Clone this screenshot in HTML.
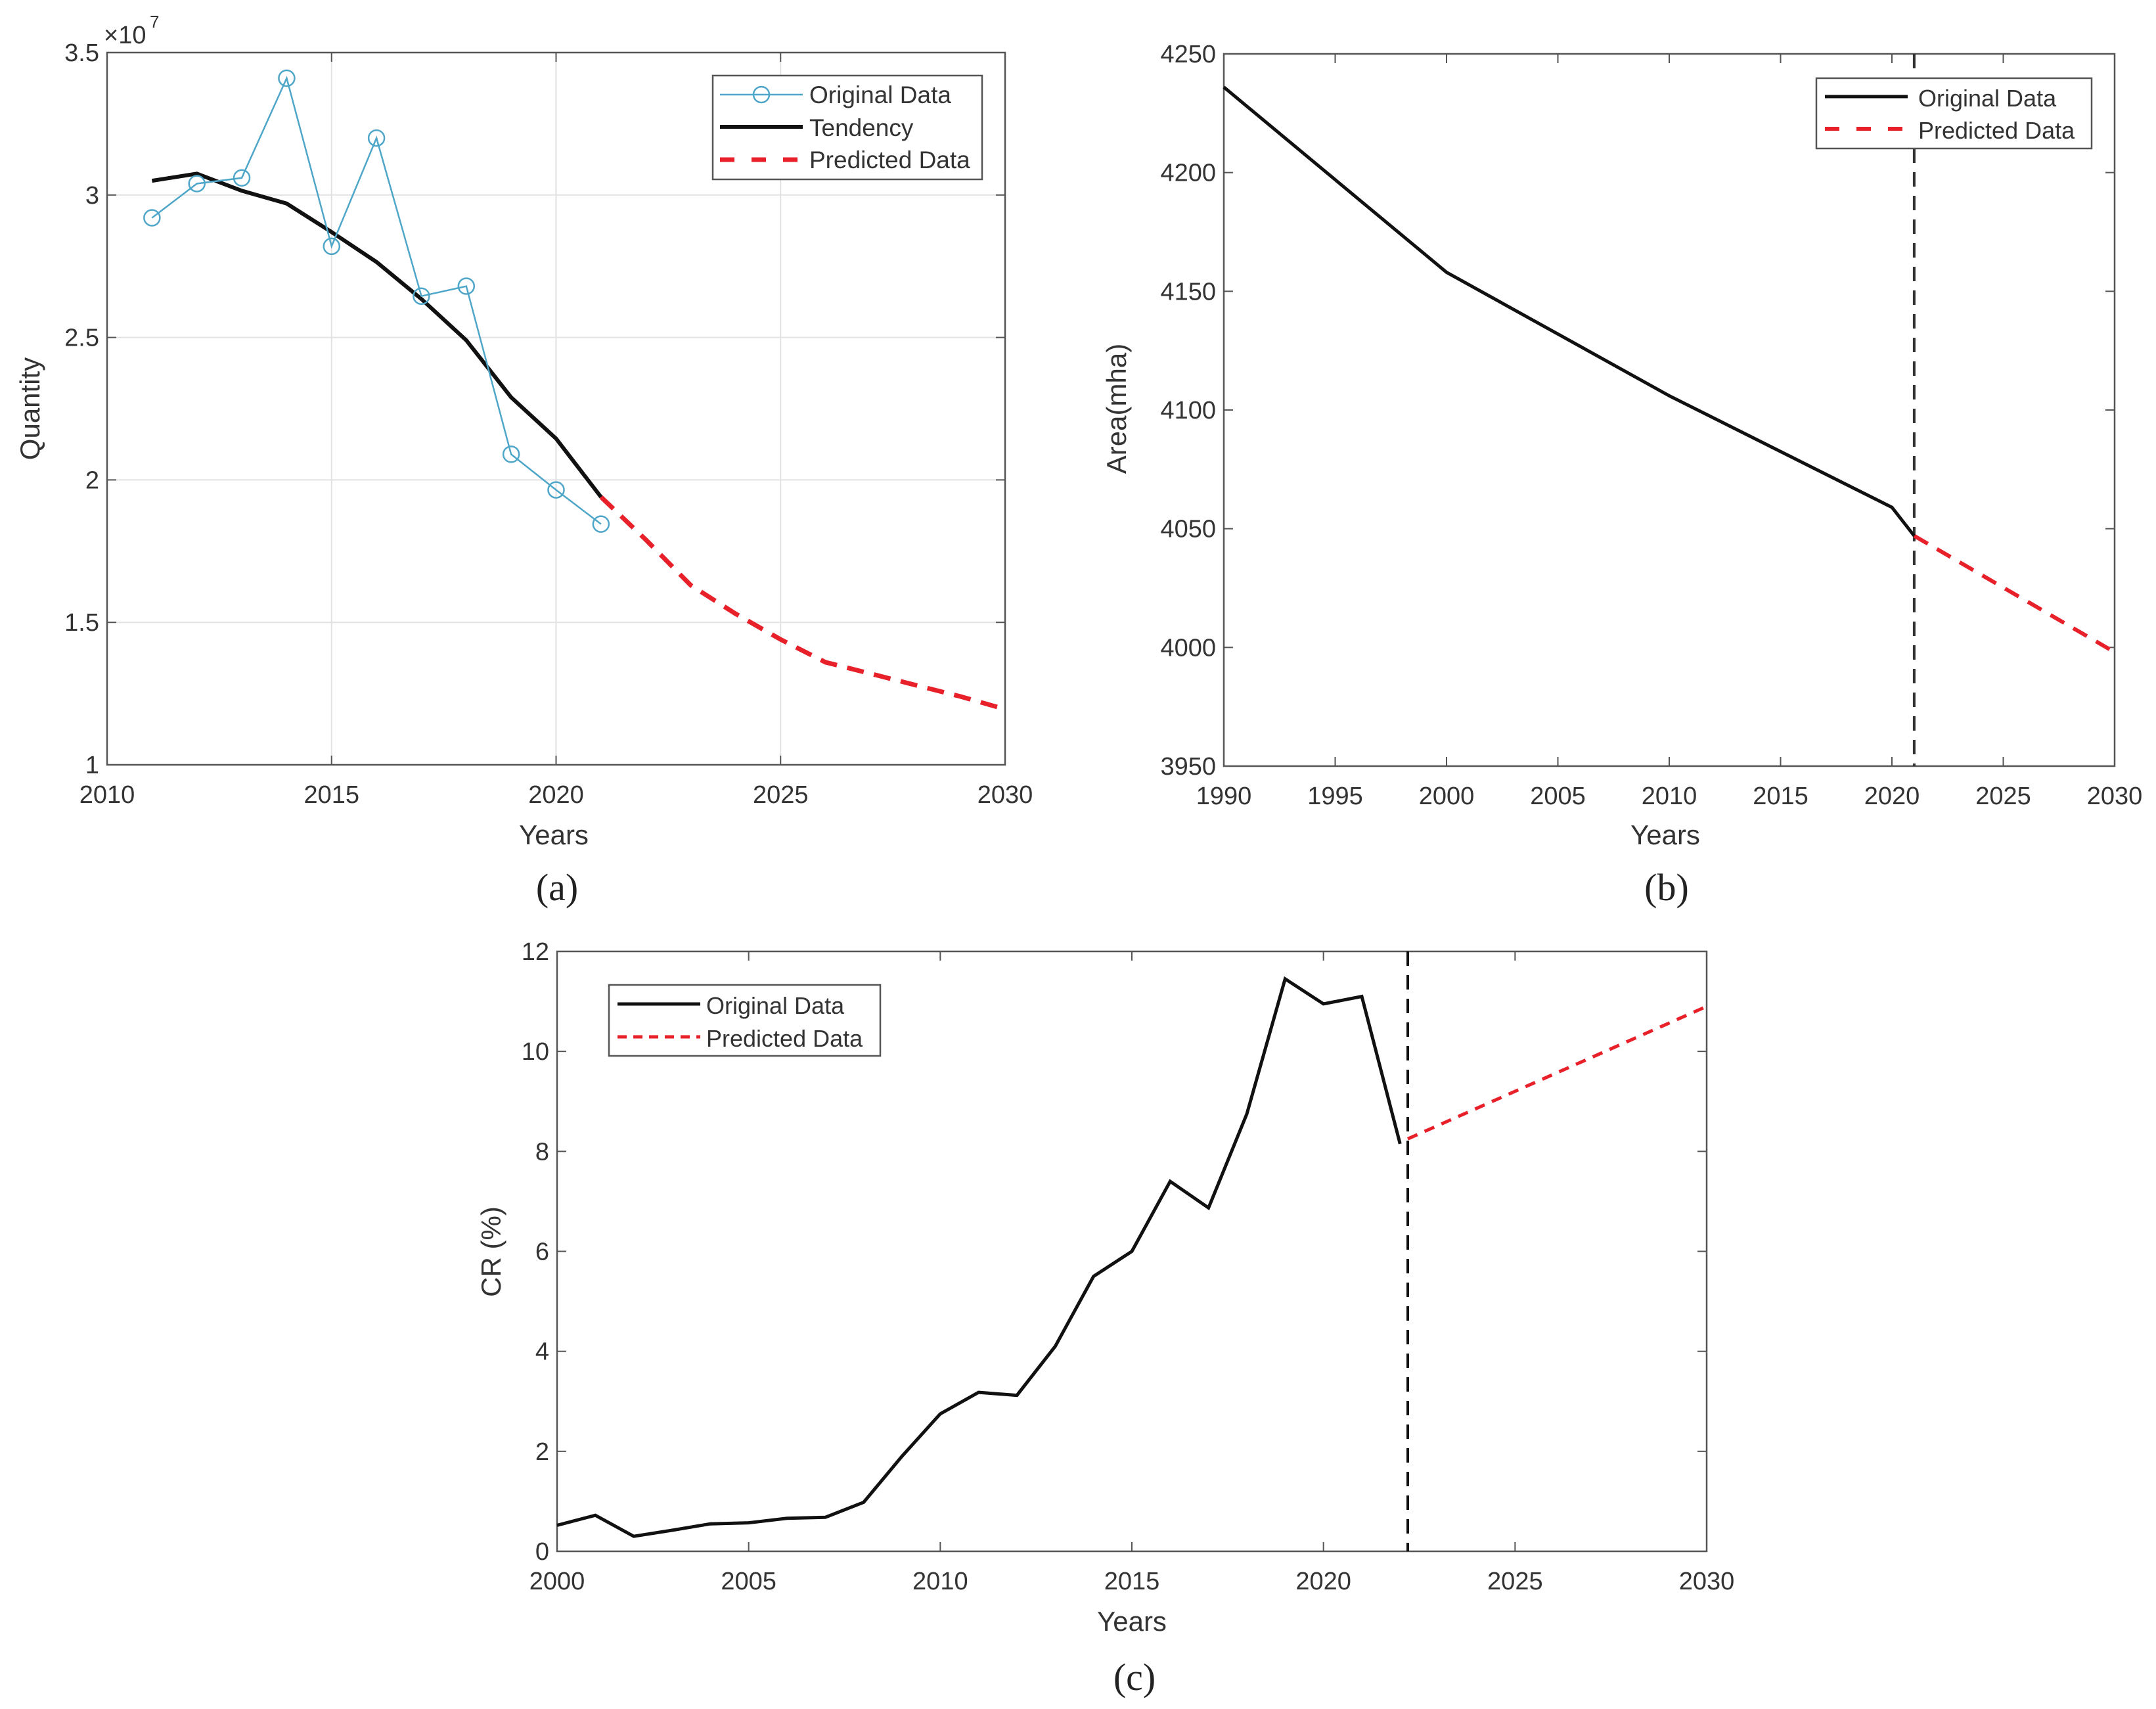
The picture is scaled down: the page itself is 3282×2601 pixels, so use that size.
<!DOCTYPE html>
<html><head><meta charset="utf-8"><style>
html,body{margin:0;padding:0;background:#fff;}
svg{display:block;}
text{font-family:"Liberation Sans",sans-serif;fill:#333;}
.cap{font-family:"Liberation Serif",serif;fill:#222;}
</style></head><body>
<svg id="fig" width="3282" height="2601" viewBox="0 0 3282 2601" xmlns="http://www.w3.org/2000/svg"></svg>
<script>
// Panel (a) data
const aYearsOrig = [2011,2012,2013,2014,2015,2016,2017,2018,2019,2020,2021];
const aOrig = [2.92,3.04,3.06,3.41,2.82,3.20,2.645,2.68,2.09,1.965,1.845];
const aTend = [3.05,3.075,3.015,2.97,2.87,2.765,2.635,2.49,2.29,2.145,1.94];
const aYearsPred = [2021,2022,2023,2024,2025,2026,2027,2028,2029,2030];
const aPred = [1.94,1.79,1.63,1.53,1.44,1.36,1.32,1.28,1.24,1.195];
const aXTicks = [2010,2015,2020,2025,2030];
const aYTicks = [1,1.5,2,2.5,3,3.5];
const aYTickLabels = ["1","1.5","2","2.5","3","3.5"];
// Panel (b) data
const bYearsOrig = [1990,2000,2010,2020,2021];
const bOrig = [4236,4158,4106,4059,4047];
const bYearsPred = [2021,2030];
const bPred = [4047,3998];
const bXTicks = [1990,1995,2000,2005,2010,2015,2020,2025,2030];
const bYTicks = [3950,4000,4050,4100,4150,4200,4250];
const bDivider = 2021;
// Panel (c) data
const cYearsOrig = [2000,2001,2002,2003,2004,2005,2006,2007,2008,2009,2010,2011,2012,2013,2014,2015,2016,2017,2018,2019,2020,2021,2022];
const cOrig = [0.52,0.72,0.3,0.42,0.55,0.57,0.66,0.68,0.98,1.9,2.75,3.18,3.12,4.1,5.5,6.0,7.4,6.87,8.75,11.45,10.95,11.1,8.15];
const cYearsPred = [2022.2,2030];
const cPred = [8.25,10.9];
const cXTicks = [2000,2005,2010,2015,2020,2025,2030];
const cYTicks = [0,2,4,6,8,10,12];
const cDivider = 2022.2;

const NS="http://www.w3.org/2000/svg";
const svg=document.getElementById('fig');
function mk(tag,attrs,parent){const e=document.createElementNS(NS,tag);for(const k in attrs)e.setAttribute(k,attrs[k]);(parent||svg).appendChild(e);return e;}
function scale(d0,d1,r0,r1){return v=>r0+(v-d0)/(d1-d0)*(r1-r0);}
function pts(xs,ys,sx,sy){return xs.map((x,i)=>sx(x).toFixed(1)+','+sy(ys[i]).toFixed(1)).join(' ');}

function axes(g,box,xd,yd,xt,yt,ytl,grid,fs){
  const sx=scale(xd[0],xd[1],box.l,box.r), sy=scale(yd[0],yd[1],box.b,box.t);
  xt.forEach(v=>{
    if(grid){const gl=mk('line',{x1:sx(v),x2:sx(v),y1:box.t,y2:box.b,stroke:'#e2e2e2','stroke-width':2},g);
    }
    mk('line',{x1:sx(v),x2:sx(v),y1:box.b,y2:box.b-14,stroke:'#555','stroke-width':2},g);
    mk('line',{x1:sx(v),x2:sx(v),y1:box.t,y2:box.t+14,stroke:'#555','stroke-width':2},g);
    const t=mk('text',{x:sx(v),y:box.b+58,'text-anchor':'middle','font-size':fs},g);t.textContent=v;
    
  });
  yt.forEach((v,i)=>{
    if(grid){const gl=mk('line',{x1:box.l,x2:box.r,y1:sy(v),y2:sy(v),stroke:'#e2e2e2','stroke-width':2},g);
    }
    mk('line',{x1:box.l,x2:box.l+14,y1:sy(v),y2:sy(v),stroke:'#555','stroke-width':2},g);
    mk('line',{x1:box.r,x2:box.r-14,y1:sy(v),y2:sy(v),stroke:'#555','stroke-width':2},g);
    const t=mk('text',{x:box.l-12,y:sy(v)+13,'text-anchor':'end','font-size':fs},g);t.textContent=ytl?ytl[i]:v;
    
  });
  const fr=mk('rect',{x:box.l,y:box.t,width:box.r-box.l,height:box.b-box.t,fill:'none',stroke:'#555','stroke-width':2.5},g);
  
  return [sx,sy];
}
function txt(x,y,s,fs,cls,extra,name){const t=mk('text',Object.assign({x:x,y:y,'font-size':fs},extra||{}));if(cls)t.setAttribute('class',cls);t.textContent=s;
  return t;}

// ---------- Panel a ----------
const ga=mk('g',{});
const boxA={l:163,r:1530,t:80,b:1164};
const [ax,ay]=axes(ga,boxA,[2010,2030],[1,3.5],aXTicks,aYTicks,aYTickLabels,true,38);
let l=mk('polyline',{points:pts(aYearsPred,aPred,ax,ay),fill:'none',stroke:'#e8202a','stroke-width':7,'stroke-dasharray':'26 16'},ga);

l=mk('polyline',{points:pts(aYearsOrig,aTend,ax,ay),fill:'none',stroke:'#111','stroke-width':6},ga);

l=mk('polyline',{points:pts(aYearsOrig,aOrig,ax,ay),fill:'none',stroke:'#4ea6c9','stroke-width':2.5},ga);

aYearsOrig.forEach((y,i)=>{const c=mk('circle',{cx:ax(y),cy:ay(aOrig[i]),r:12,fill:'none',stroke:'#4ea6c9','stroke-width':2.5},ga);
  });
txt(158,66,'×10',38,null,{},'exponent-label');
txt(228,42,'7',26,null,{},'exponent-power');
txt(843,1285,'Years',42,null,{'text-anchor':'middle'},'x-axis-title');
txt(60,622,'Quantity',42,null,{'text-anchor':'middle',transform:'rotate(-90 60 622)'},'y-axis-title');
txt(848,1370,'(a)',58,'cap',{'text-anchor':'middle'},'panel-label-a');
// legend a
let lg=mk('g',{});
mk('rect',{x:1085,y:115,width:410,height:158,fill:'#fff',stroke:'#555','stroke-width':2.5},lg);
mk('line',{x1:1096,x2:1222,y1:144,y2:144,stroke:'#4ea6c9','stroke-width':2.5},lg);
mk('circle',{cx:1159,cy:144,r:12,fill:'none',stroke:'#4ea6c9','stroke-width':2.5},lg);
mk('line',{x1:1096,x2:1222,y1:193,y2:193,stroke:'#111','stroke-width':6},lg);
mk('line',{x1:1096,x2:1222,y1:243,y2:243,stroke:'#e8202a','stroke-width':7,'stroke-dasharray':'22 26'},lg);
[['Original Data',157],['Tendency',207],['Predicted Data',256]].forEach(e=>{const t=mk('text',{x:1232,y:e[1],'font-size':37},lg);t.textContent=e[0];
  });

// ---------- Panel b ----------
const gb=mk('g',{});
const boxB={l:1863,r:3219,t:82,b:1166};
const [bx,by]=axes(gb,boxB,[1990,2030],[3950,4250],bXTicks,bYTicks,null,false,38);
l=mk('line',{x1:bx(bDivider),x2:bx(bDivider),y1:boxB.t,y2:boxB.b,stroke:'#333','stroke-width':4,'stroke-dasharray':'22 14'},gb);

l=mk('polyline',{points:pts(bYearsPred,bPred,bx,by),fill:'none',stroke:'#e8202a','stroke-width':6,'stroke-dasharray':'24 16'},gb);

l=mk('polyline',{points:pts(bYearsOrig,bOrig,bx,by),fill:'none',stroke:'#111','stroke-width':5},gb);

txt(2535,1285,'Years',42,null,{'text-anchor':'middle'},'x-axis-title');
txt(1714,622,'Area(mha)',42,null,{'text-anchor':'middle',transform:'rotate(-90 1714 622)'},'y-axis-title');
txt(2537,1370,'(b)',58,'cap',{'text-anchor':'middle'},'panel-label-b');
lg=mk('g',{});
mk('rect',{x:2765,y:119,width:419,height:107,fill:'#fff',stroke:'#555','stroke-width':2.5},lg);
mk('line',{x1:2778,x2:2904,y1:147,y2:147,stroke:'#111','stroke-width':5},lg);
mk('line',{x1:2778,x2:2904,y1:196,y2:196,stroke:'#e8202a','stroke-width':6,'stroke-dasharray':'22 26'},lg);
[['Original Data',162],['Predicted Data',211]].forEach(e=>{const t=mk('text',{x:2920,y:e[1],'font-size':36},lg);t.textContent=e[0];
  });

// ---------- Panel c ----------
const gc=mk('g',{});
const boxC={l:848,r:2598,t:1448,b:2361};
const [cx,cy]=axes(gc,boxC,[2000,2030],[0,12],cXTicks,cYTicks,null,false,38);
l=mk('line',{x1:cx(cDivider),x2:cx(cDivider),y1:boxC.t,y2:boxC.b,stroke:'#111','stroke-width':4,'stroke-dasharray':'22 14'},gc);

l=mk('polyline',{points:pts(cYearsPred,cPred,cx,cy),fill:'none',stroke:'#e8202a','stroke-width':5,'stroke-dasharray':'16 12'},gc);

l=mk('polyline',{points:pts(cYearsOrig,cOrig,cx,cy),fill:'none',stroke:'#111','stroke-width':5},gc);

txt(1723,2482,'Years',42,null,{'text-anchor':'middle'},'x-axis-title');
txt(762,1905,'CR (%)',42,null,{'text-anchor':'middle',transform:'rotate(-90 762 1905)'},'y-axis-title');
txt(1727,2572,'(c)',58,'cap',{'text-anchor':'middle'},'panel-label-c');
lg=mk('g',{});
mk('rect',{x:927,y:1499,width:413,height:108,fill:'#fff',stroke:'#555','stroke-width':2.5},lg);
mk('line',{x1:940,x2:1066,y1:1528,y2:1528,stroke:'#111','stroke-width':5},lg);
mk('line',{x1:940,x2:1066,y1:1578,y2:1578,stroke:'#e8202a','stroke-width':5,'stroke-dasharray':'14 10'},lg);
[['Original Data',1543],['Predicted Data',1593]].forEach(e=>{const t=mk('text',{x:1075,y:e[1],'font-size':36},lg);t.textContent=e[0];
  });
</script>
</body></html>
